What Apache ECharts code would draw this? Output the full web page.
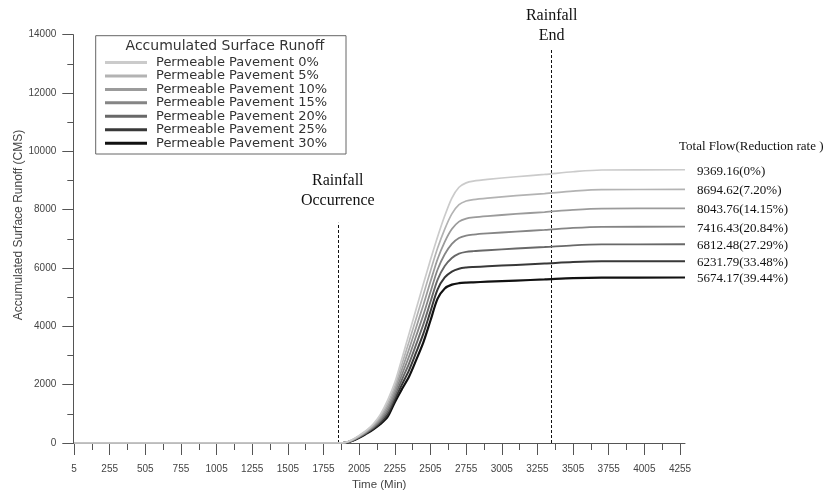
<!DOCTYPE html>
<html>
<head>
<meta charset="utf-8">
<title>Accumulated Surface Runoff</title>
<script src="https://cdn.jsdelivr.net/npm/echarts@6.0.0/dist/echarts.min.js"></script>
<style>
  html, body { margin: 0; padding: 0; background: #fff; }
  #chart { width: 825px; height: 496px; }
</style>
</head>
<body>
<div id="chart"></div>
<script>
// Simulation time (minutes)
const timeMin = [5, 1855, 1905, 1955, 2005, 2055, 2105, 2155, 2205, 2255, 2305, 2355, 2405, 2455,
  2505, 2555, 2605, 2655, 2705, 2755, 2805, 2905, 3105, 3305, 3505, 3705, 4290];

// Accumulated surface runoff (CMS) for each permeable-pavement ratio
const pp0  = [0, 0, 15, 110, 260, 430, 660, 990, 1470, 2080, 2900, 3750, 4600, 5450, 6280, 7070, 7790, 8400, 8770, 8920, 8980, 9040, 9130, 9210, 9300, 9360, 9369.16];
const pp5  = [0, 0, 14, 103, 245, 410, 625, 928, 1366, 1956, 2708, 3482, 4281, 5085, 5900, 6683, 7336, 7858, 8170, 8296, 8347, 8399, 8480, 8553, 8635, 8687, 8694.62];
const pp10 = [0, 0, 12, 96, 231, 391, 592, 868, 1266, 1836, 2523, 3223, 3972, 4733, 5534, 6310, 6897, 7335, 7590, 7693, 7735, 7781, 7853, 7919, 7993, 8037, 8043.76];
const pp15 = [0, 0, 11, 89, 218, 372, 560, 810, 1169, 1721, 2345, 2973, 3675, 4393, 5181, 5950, 6474, 6830, 7031, 7113, 7146, 7185, 7249, 7307, 7374, 7411, 7416.43];
const pp20 = [0, 0, 10, 82, 205, 354, 529, 755, 1076, 1610, 2174, 2733, 3389, 4066, 4841, 5603, 6067, 6345, 6494, 6554, 6579, 6611, 6667, 6719, 6778, 6809, 6812.48];
const pp25 = [0, 0, 9, 76, 192, 337, 499, 701, 986, 1503, 2008, 2502, 3114, 3752, 4514, 5270, 5676, 5878, 5976, 6016, 6034, 6060, 6107, 6153, 6205, 6229, 6231.79];
const pp30 = [0, 0, 8, 70, 180, 320, 470, 650, 900, 1400, 1850, 2280, 2850, 3450, 4200, 4950, 5300, 5430, 5480, 5500, 5510, 5530, 5570, 5610, 5655, 5673, 5674.17];

const seriesNames = ['Permeable Pavement 0%', 'Permeable Pavement 5%', 'Permeable Pavement 10%',
  'Permeable Pavement 15%', 'Permeable Pavement 20%', 'Permeable Pavement 25%', 'Permeable Pavement 30%'];
const totalFlowLabels = ['9369.16(0%)', '8694.62(7.20%)', '8043.76(14.15%)', '7416.43(20.84%)',
  '6812.48(27.29%)', '6231.79(33.48%)', '5674.17(39.44%)'];

// Axis ticks
const xTickValues = [5, 255, 505, 755, 1005, 1255, 1505, 1755, 2005, 2255, 2505, 2755, 3005, 3255, 3505, 3755, 4005, 4255];
const xMinorTickValues = [130, 380, 630, 880, 1130, 1380, 1630, 1880, 2130, 2380, 2630, 2880, 3130, 3380, 3630, 3880, 4130];

// Rainfall event markers (minutes)
const rainfallStart = 1855;
const rainfallEnd = 3355;

const lineColors = ['#cbcbcb', '#b3b3b3', '#9b9b9b', '#858585', '#686868', '#383838', '#111111'];
const lineWidths = [1.7, 1.7, 1.8, 1.8, 1.9, 2.0, 2.2];
const runoff = [pp0, pp5, pp10, pp15, pp20, pp25, pp30];

const axisColor = '#555';
const labelColor = '#444';
const serif = '"Liberation Serif", "Times New Roman", serif';
const sans = '"Liberation Sans", Arial, sans-serif';
const plainNumber = v => String(v);

const series = runoff.map((vals, i) => {
  const s = {
    name: seriesNames[i],
    type: 'line',
    data: timeMin.map((t, k) => [t, vals[k]]),
    showSymbol: false,
    symbol: 'none',
    smooth: 0.3,
    lineStyle: { color: lineColors[i], width: lineWidths[i] },
    itemStyle: { color: lineColors[i] },
    z: 10 - i,
    endLabel: {
      show: true,
      formatter: totalFlowLabels[i],
      distance: 12,
      offset: [0, 1.5],
      fontFamily: serif,
      fontSize: 13,
      color: '#111'
    }
  };
  if (i === 0) {
    s.markLine = {
      silent: true,
      symbol: ['none', 'none'],
      animation: false,
      lineStyle: { color: '#111', width: 1, type: [3, 2] },
      label: {
        show: true,
        position: 'end',
        fontFamily: serif,
        fontSize: 16,
        lineHeight: 20,
        color: '#111'
      },
      data: [
        [
          { coord: [rainfallStart, 0] },
          { coord: [rainfallStart, 7550], label: { formatter: 'Rainfall\nOccurrence', distance: 12 } }
        ],
        [
          { coord: [rainfallEnd, 0] },
          { coord: [rainfallEnd, 13480], label: { formatter: 'Rainfall\nEnd', distance: 4 } }
        ]
      ]
    };
  }
  return s;
});

const chart = echarts.init(document.getElementById('chart'), null, { renderer: 'canvas' });

chart.setOption({
  animation: false,
  backgroundColor: '#fff',
  grid: { left: 73.3, right: 140, top: 34.7, bottom: 50.3, containLabel: false },
  xAxis: [
    {
      type: 'value',
      min: 0,
      max: 4290,
      position: 'bottom',
      name: 'Time (Min)',
      nameLocation: 'middle',
      nameGap: 36,
      nameTextStyle: { fontFamily: sans, fontSize: 11.5, color: labelColor },
      axisLine: { show: true, lineStyle: { color: axisColor, width: 1 } },
      axisTick: { show: true, length: 12, customValues: xTickValues, lineStyle: { color: axisColor } },
      axisLabel: { customValues: xTickValues, formatter: plainNumber, margin: 21, fontFamily: sans, fontSize: 10, color: labelColor },
      splitLine: { show: false }
    },
    {
      type: 'value',
      min: 0,
      max: 4290,
      position: 'bottom',
      axisLine: { show: false },
      axisTick: { show: true, length: 7, customValues: xMinorTickValues, lineStyle: { color: axisColor } },
      axisLabel: { show: false },
      splitLine: { show: false }
    }
  ],
  yAxis: {
    type: 'value',
    min: 0,
    max: 14000,
    interval: 2000,
    axisLine: { show: true, lineStyle: { color: axisColor, width: 1 } },
    axisTick: { show: true, length: 11, lineStyle: { color: axisColor } },
    minorTick: { show: true, splitNumber: 2, length: 6, lineStyle: { color: axisColor } },
    axisLabel: { formatter: plainNumber, margin: 17, fontFamily: sans, fontSize: 10, color: labelColor },
    splitLine: { show: false },
    minorSplitLine: { show: false }
  },
  legend: {
    orient: 'vertical',
    left: 105,
    top: 56,
    padding: 0,
    itemWidth: 42,
    itemHeight: 3,
    itemGap: 0.45,
    icon: 'rect',
    selectedMode: false,
    textStyle: {
      fontFamily: '"DejaVu Sans", sans-serif',
      fontSize: 13,
      lineHeight: 13,
      color: '#333',
      padding: [0, 0, 0, 4]
    },
    data: seriesNames
  },
  graphic: [
    {
      type: 'rect',
      z: -1,
      shape: { x: 95.7, y: 35.7, width: 250.3, height: 118.3 },
      style: { fill: '#fff', stroke: '#666', lineWidth: 1 }
    },
    {
      type: 'text',
      x: 225,
      y: 46.7,
      style: {
        text: 'Accumulated Surface Runoff',
        fontFamily: '"DejaVu Sans", sans-serif',
        fontSize: 14,
        fill: '#333',
        align: 'center',
        verticalAlign: 'middle'
      }
    },
    {
      type: 'text',
      x: 18.3,
      y: 225,
      rotation: Math.PI / 2,
      style: {
        text: 'Accumulated Surface Runoff (CMS)',
        fontFamily: sans,
        fontSize: 12,
        fill: '#444',
        align: 'center',
        verticalAlign: 'middle'
      }
    },
    {
      type: 'text',
      x: 679,
      y: 146.7,
      style: {
        text: 'Total Flow(Reduction rate )',
        fontFamily: serif,
        fontSize: 13,
        fill: '#111',
        align: 'left',
        verticalAlign: 'middle'
      }
    }
  ],
  series: series
});
</script>
</body>
</html>
